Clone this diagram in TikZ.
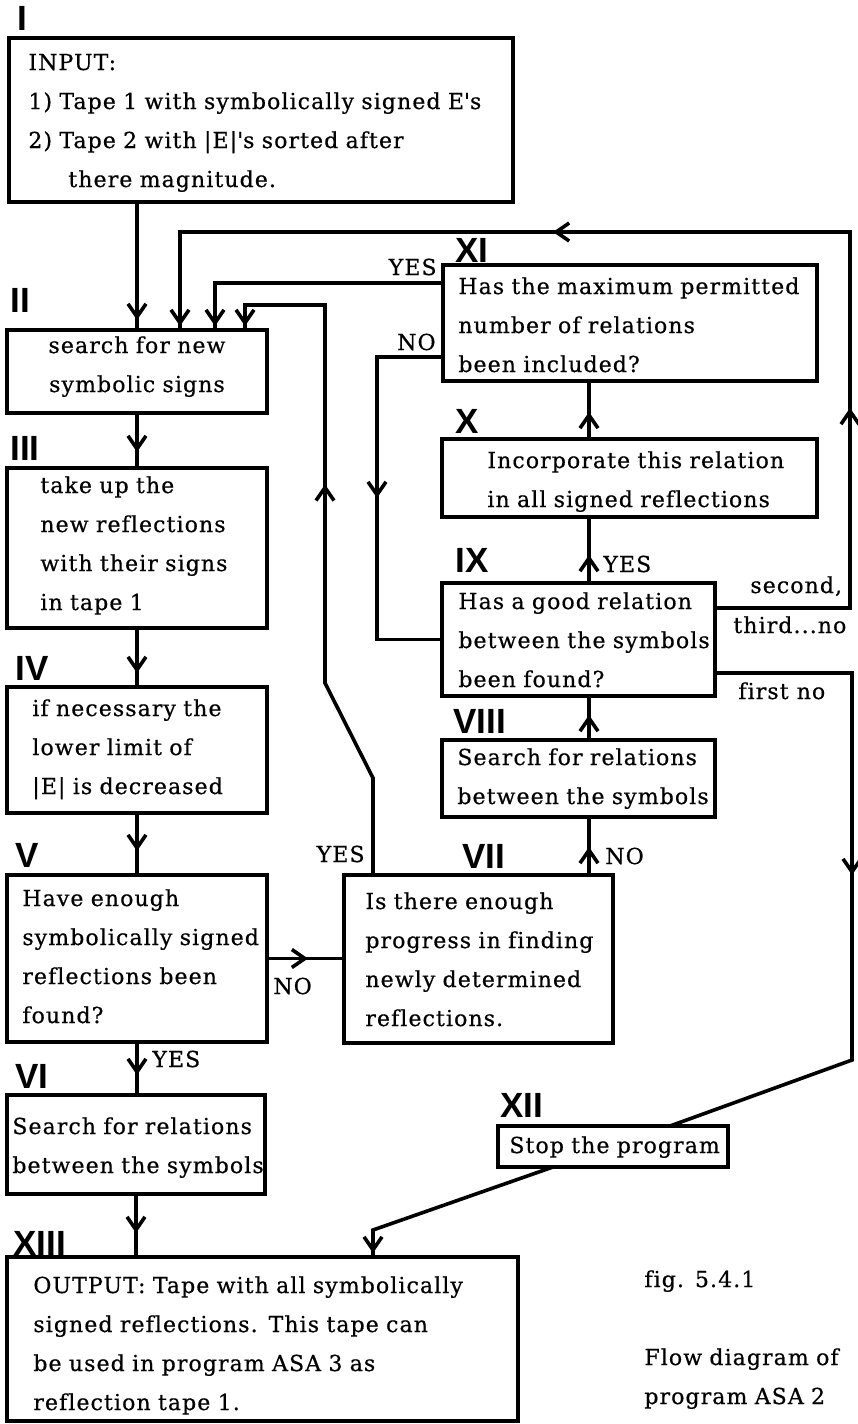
\documentclass[tikz,border=0pt]{standalone}
\usepackage{fontspec}
\newfontfamily\twfont{DejaVu Serif}[LetterSpace=5, FakeBold=0.6, Ligatures={NoCommon}]
\newfontfamily\numfont{Liberation Sans}
\usetikzlibrary{arrows.meta,decorations.markings,fit}

\tikzset{
  box/.style={draw, line width=2pt, inner sep=0pt, outer sep=0pt},
  txt/.style={font=\twfont\fontsize{11}{19.5}\selectfont, inner sep=0pt,
              anchor=base west, text width=300pt, align=left},
  lbl/.style={font=\twfont\fontsize{11}{12}\selectfont, inner sep=0pt},
  num/.style={font=\numfont\bfseries\fontsize{17.5}{18}\selectfont,
              inner sep=0pt, anchor=base west},
  link/.style={line width=1.8pt},
  barb/.tip={Straight Barb[length=6.5pt, width=9pt]},
  arrowat/.style={postaction={decorate, decoration={markings,
      mark=at position #1 with {\arrow{barb}}}}},
}

\begin{document}
\begin{tikzpicture}[x=0.5pt, y=-0.5pt]
\useasboundingbox (0,0) rectangle (857,1424);

% boxes
\node[box, fit={(9,38) (513,202)}]     (i)    {};
\node[box, fit={(7,330) (267,413)}]    (ii)   {};
\node[box, fit={(7,468) (267,628)}]    (iii)  {};
\node[box, fit={(7,687) (267,813)}]    (iv)   {};
\node[box, fit={(7,875) (267,1042)}]   (v)    {};
\node[box, fit={(7,1095) (265,1194)}]  (vi)   {};
\node[box, fit={(344,875) (613,1043)}] (vii)  {};
\node[box, fit={(442,740) (715,817)}]  (viii) {};
\node[box, fit={(442,583) (715,696)}]  (ix)   {};
\node[box, fit={(442,439) (817,517)}]  (x)    {};
\node[box, fit={(443,265) (817,381)}]  (xi)   {};
\node[box, fit={(498,1126) (728,1167)}] (xii) {};
\node[box, fit={(7,1257) (518,1421)}]  (xiii) {};

% box texts
\node[txt] (ti) at (28,70) {INPUT:\\1) Tape 1 with symbolically signed E\textquotesingle s\\2) Tape 2 with |E|\textquotesingle s sorted after\\\hspace*{20pt}there magnitude.};
\node[txt, text width=120pt, align=center, anchor=base] (tii) at (137,353) {search for new\\symbolic signs};
\node[txt] (tiii) at (40,493) {take up the\\new reflections\\with their signs\\in tape 1};
\node[txt] (tiv) at (32,716) {if necessary the\\lower limit of\\|E| is decreased};
\node[txt] (tv) at (22,906) {Have enough\\symbolically signed\\reflections been\\found?};
\node[txt] (tvi) at (12,1134) {Search for relations\\between the symbols};
\node[txt] (tvii) at (365,909) {Is there enough\\progress in finding\\newly determined\\reflections.};
\node[txt] (tviii) at (457,765) {Search for relations\\between the symbols};
\node[txt] (tix) at (458,609) {Has a good relation\\between the symbols\\been found?};
\node[txt] (tx) at (487,468) {Incorporate this relation\\in all signed reflections};
\node[txt] (txi) at (458,294) {Has the maximum permitted\\number of relations\\been included?};
\node[txt] (txii) at (509,1153) {Stop the program};
\node[txt] (txiii) at (33,1293) {OUTPUT: Tape with all symbolically\\signed reflections. This tape can\\be used in program ASA 3 as\\reflection tape 1.};
\node[txt] (cap1) at (644,1287) {fig. 5.4.1};
\node[txt] (cap2) at (644,1365) {Flow diagram of\\program ASA 2};

% step numbers
\node[num] (ni)    at (17,30)    {I};
\node[num] (nii)   at (10,312)   {II};
\node[num] (niii)  at (10,460)   {III};
\node[num] (niv)   at (15,680)   {IV};
\node[num] (nv)    at (15,867)   {V};
\node[num] (nvi)   at (15,1088)  {VI};
\node[num] (nxiii) at (13,1255)  {XIII};
\node[num] (nvii)  at (462,868)  {VII};
\node[num] (nviii) at (453,733)  {VIII};
\node[num] (nix)   at (455,572)  {IX};
\node[num] (nx)    at (455,433)  {X};
\node[num] (nxi)   at (455,262)  {XI};
\node[num] (nxii)  at (500,1117) {XII};

% branch labels
\node[lbl, anchor=base east] (lyesxi) at (437,275) {YES};
\node[lbl, anchor=base east] (lnoxi)  at (436,350) {NO};
\node[lbl, anchor=base west] (lyesix) at (603,572) {YES};
\node[lbl, anchor=base west] (lsec)   at (750,593) {second,};
\node[lbl, anchor=base west] (lthird) at (733,633) {third...no};
\node[lbl, anchor=base west] (lfirst) at (738,699) {first no};
\node[lbl, anchor=base west] (lnovii) at (605,864) {NO};
\node[lbl, anchor=base east] (lyesvii) at (365,862) {YES};
\node[lbl, anchor=base west] (lnov)   at (273,994) {NO};
\node[lbl, anchor=base west] (lyesv)  at (152,1067) {YES};

% routing coordinates
\coordinate (xA) at (589,0);
\coordinate (xTop) at (180,0);
\coordinate (xYes) at (215,0);
\coordinate (xBack) at (245,0);
\coordinate (xNo) at (377,0);
\coordinate (xOut) at (850,0);
\coordinate (xVII) at (373,0);
\coordinate (xBackUp) at (325,0);
\coordinate (xIn12) at (670,0);
\coordinate (xOut12) at (553,0);
\coordinate (yTop) at (0,232);
\coordinate (yYes) at (0,283);
\coordinate (yNo) at (0,357);
\coordinate (yBack) at (0,305);
\coordinate (ySec) at (0,608);
\coordinate (yFirst) at (0,673);
\coordinate (bendF) at (852,1060);
\coordinate (bendS) at (373,1230);
\coordinate (bendY1) at (373,778);
\coordinate (bendY2) at (325,683);

% main column
\draw[link, arrowat=-5pt] (i.south -| ii.north) -- (ii.north);
\draw[link, arrowat=-8pt] (ii.south) -- (ii.south |- iii.north);
\draw[link, arrowat=-7pt] (iii.south) -- (iii.south |- iv.north);
\draw[link, arrowat=-12pt] (iv.south) -- (iv.south |- v.north);
\draw[link, arrowat=-10pt] (v.south) -- (v.south |- vi.north);
\draw[link, arrowat=-12pt] (vi.south) -- (vi.south |- xiii.north);
\draw[link, arrowat=-18pt] (v.east) -- (v.east -| vii.west);

% right column
\draw[link, arrowat=14pt] (xA |- vii.north) -- (xA |- viii.south);
\draw[link, arrowat=12.5pt] (xA |- viii.north) -- (xA |- ix.south);
\draw[link, arrowat=14pt] (xA |- ix.north) -- (xA |- x.south);
\draw[link, arrowat=13.5pt] (xA |- x.north) -- (xA |- xi.south);

% loops back to II
\draw[link, arrowat=-2pt] (xi.west |- yYes) -| (xYes |- ii.north);
\draw[link, arrowat=103.5pt] (xi.west |- yNo) -| (xNo |- ix.west) -- (ix.west);
\draw[link, arrowat=167.5pt, arrowat=404pt, arrowat=-2pt]
  (ix.east |- ySec) -| (xOut |- yTop) -| (xTop |- ii.north);
\draw[link, arrowat=201pt, arrowat=-2pt]
  (xVII |- vii.north) -- (bendY1) -- (bendY2) -- (xBackUp |- yBack) -| (xBack |- ii.north);

% stop branch
\draw[link, arrowat=169.5pt] (ix.east |- yFirst) -| (bendF) -- (xIn12 |- xii.north);
\draw[link, arrowat=-2pt] (xOut12 |- xii.south) -- (bendS) -- (bendS |- xiii.north);
\end{tikzpicture}
\end{document}
